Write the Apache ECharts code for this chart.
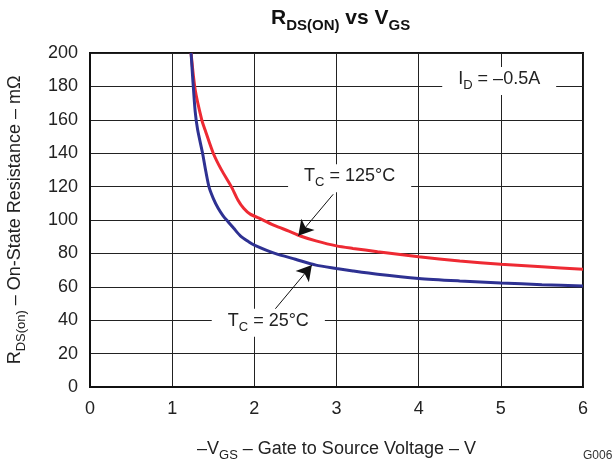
<!DOCTYPE html>
<html>
<head>
<meta charset="utf-8">
<script src="https://cdn.jsdelivr.net/npm/echarts@6/dist/echarts.min.js"></script>
<style>
  html, body { margin: 0; padding: 0; background: #fff; }
  #chart { width: 616px; height: 464px; }
</style>
</head>
<body>
<div id="chart"></div>
<script>
// -VGS (V) vs RDS(on) (mOhm)
var vgs25 = [1.23, 1.25, 1.28, 1.31, 1.37, 1.41, 1.45, 1.50, 1.56, 1.62, 1.68, 1.75, 1.83, 1.93, 2.0, 2.25, 2.5, 2.75, 3.0, 3.2, 3.5, 4.0, 4.5, 5.0, 5.5, 6.0];
var rds25 = [200, 185, 165, 154, 140, 129, 119.5, 113, 107, 102.5, 99, 95, 90.5, 87, 85, 80, 76.5, 73, 71, 69.5, 67.5, 65, 63.5, 62.3, 61.3, 60.5];
var vgs125 = [1.23, 1.28, 1.36, 1.40, 1.50, 1.60, 1.72, 1.80, 1.87, 1.95, 2.09, 2.25, 2.42, 2.56, 2.75, 3.0, 3.2, 3.5, 4.0, 4.5, 5.0, 5.5, 6.0];
var rds125 = [200, 178, 160, 154, 140, 130, 120, 112, 107, 103.5, 100.4, 96.6, 93.4, 90.4, 87.5, 84.5, 83, 81, 78, 75.5, 73.5, 72, 70.5];

var xTicks = [0, 1, 2, 3, 4, 5, 6];
var yTicks = [0, 20, 40, 60, 80, 100, 120, 140, 160, 180, 200];

// annotation anchors in data units
var label25 = [2.17, 38.5];
var arrow25 = [[2.25, 46.5], [2.70, 73]];
var label125 = [3.16, 125];
var arrow125 = [[2.96, 115.4], [2.535, 90.5]];
var labelId = [4.98, 183.2];

var FONT = 'Liberation Sans, Arial, sans-serif';
var rich = {
  m: { fontSize: 18, fontFamily: FONT, color: '#222', lineHeight: 20, verticalAlign: 'top' },
  s: { fontSize: 13, fontFamily: FONT, color: '#222', padding: [9, 0, 0, 0], verticalAlign: 'top' }
};

function note(coord, text) {
  return {
    coord: coord,
    symbol: 'circle',
    symbolSize: 1,
    itemStyle: { color: 'rgba(0,0,0,0)' },
    label: {
      show: true,
      position: 'inside',
      formatter: text,
      backgroundColor: '#fff',
      padding: [3, 16, 3, 16],
      rich: rich
    }
  };
}

function arrow(pts) {
  return [{ coord: pts[0] }, { coord: pts[1] }];
}

var chart = echarts.init(document.getElementById('chart'));
chart.setOption({
  animation: false,
  backgroundColor: '#fff',
  grid: {
    left: 90, right: 33, top: 53, bottom: 77,
    containLabel: false, outerBoundsMode: 'none',
    show: true, borderColor: '#111', borderWidth: 2
  },
  graphic: [
    {
      type: 'text', left: 271, top: 8,
      style: {
        text: '{m|R}{s|DS(ON)}{m| vs V}{s|GS}',
        rich: {
          m: { fontSize: 21, fontWeight: 'bold', fontFamily: FONT, fill: '#111', lineHeight: 22, verticalAlign: 'top' },
          s: { fontSize: 15, fontWeight: 'bold', fontFamily: FONT, fill: '#111', padding: [10, 0, 0, 0], verticalAlign: 'top' }
        }
      }
    },
    {
      type: 'text', left: 583, top: 450,
      style: { text: 'G006', fontSize: 12, fontFamily: FONT, fill: '#333' }
    }
  ],
  xAxis: {
    type: 'value', min: 0, max: 6, interval: 1,
    name: '{m|–V}{s|GS}{m| – Gate to Source Voltage – V}',
    nameLocation: 'middle', nameGap: 53,
    nameTextStyle: { rich: rich },
    axisLine: { show: true, lineStyle: { color: '#111', width: 2 } },
    axisTick: { show: false },
    axisLabel: { fontSize: 18, fontFamily: FONT, color: '#222', margin: 13,
      formatter: function (v) { return xTicks.indexOf(v) >= 0 ? String(v) : ''; } },
    splitLine: { show: true, lineStyle: { color: '#222', width: 1 } }
  },
  yAxis: {
    type: 'value', min: 0, max: 200, interval: 20,
    name: '{m|R}{s|DS(on)}{m| – On-State Resistance – mΩ}',
    nameLocation: 'middle', nameGap: 62,
    nameTextStyle: { rich: rich },
    axisLine: { show: true, lineStyle: { color: '#111', width: 2 } },
    axisTick: { show: false },
    axisLabel: { fontSize: 18, fontFamily: FONT, color: '#222', margin: 12,
      formatter: function (v) { return yTicks.indexOf(v) >= 0 ? String(v) : ''; } },
    splitLine: { show: true, lineStyle: { color: '#222', width: 1 } }
  },
  series: [
    {
      name: 'TC = 125°C', type: 'line', showSymbol: false, smooth: 0.25,
      lineStyle: { color: '#ee2a33', width: 3 },
      data: vgs125.map(function (v, i) { return [v, rds125[i]]; }),
      markPoint: {
        silent: true, animation: false,
        data: [note(label125, '{m|T}{s|C}{m| = 125°C}'), note(labelId, '{m|I}{s|D}{m| = –0.5A}')]
      },
      markLine: {
        silent: true, animation: false,
        symbol: ['none', 'arrow'], symbolSize: [13, 15],
        label: { show: false },
        lineStyle: { type: 'solid', color: '#111', width: 1 },
        data: [arrow(arrow125)]
      }
    },
    {
      name: 'TC = 25°C', type: 'line', showSymbol: false, smooth: 0.25,
      lineStyle: { color: '#2e3192', width: 3 },
      data: vgs25.map(function (v, i) { return [v, rds25[i]]; }),
      markPoint: {
        silent: true, animation: false,
        data: [note(label25, '{m|T}{s|C}{m| = 25°C}')]
      },
      markLine: {
        silent: true, animation: false,
        symbol: ['none', 'arrow'], symbolSize: [13, 15],
        label: { show: false },
        lineStyle: { type: 'solid', color: '#111', width: 1 },
        data: [arrow(arrow25)]
      }
    }
  ]
});
</script>
</body>
</html>
